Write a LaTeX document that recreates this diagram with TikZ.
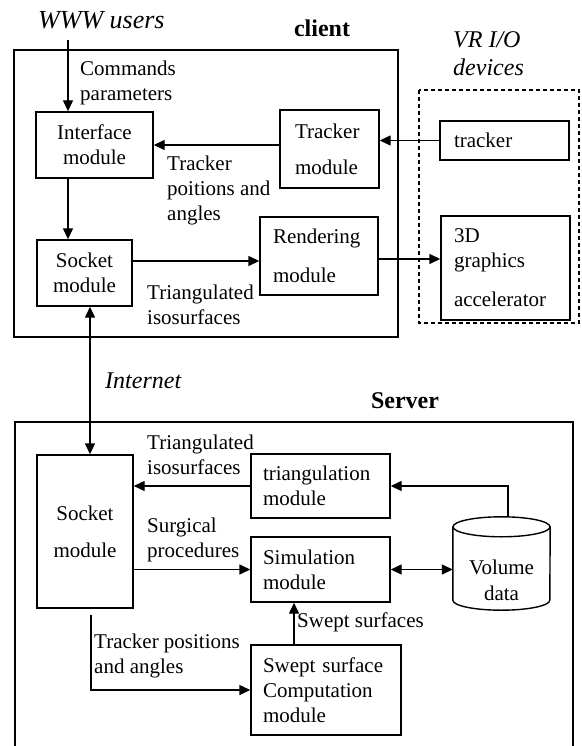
\documentclass[tikz,border=0pt]{standalone}
\usepackage{fontspec}
\setmainfont{Liberation Serif}
\usetikzlibrary{arrows.meta}
\begin{document}
\begin{tikzpicture}[x=1pt,y=-1pt,
  ln/.style={line width=1.4pt},
  arr/.style={ln,-{Triangle[length=11pt,width=10pt]}},
  darr/.style={ln,{Triangle[length=11pt,width=10pt]}-{Triangle[length=11pt,width=10pt]}},
  mod/.style={draw,ln,inner ysep=0pt,font=\fontsize{21}{25}\selectfont,align=left},
  lbl/.style={inner sep=0pt,anchor=west,align=left,font=\fontsize{21}{25}\selectfont},
  ital/.style={inner sep=0pt,font=\fontsize{24}{28}\selectfont\itshape},
  boldlbl/.style={inner sep=0pt,font=\fontsize{24}{28}\selectfont\bfseries},
]
\useasboundingbox (0,0) rectangle (581,746);

% containers
\draw[ln] (14,50) rectangle (398,337);
\draw[ln,dash pattern=on 4pt off 3pt] (419,90) rectangle (579,323);
\draw[ln] (15,760) -- (15,422) -- (573,422) -- (573,760);

% modules
\node[mod,align=center,text width=97pt,inner xsep=10pt,minimum height=66pt] (iface) at (94.5,145) {Interface\\module};
\node[mod,text width=69pt,inner xsep=15pt,minimum height=78pt] (trkm) at (329.5,149) {Tracker\\[11pt]module};
\node[mod,align=center,text width=75pt,inner xsep=10pt,minimum height=66pt] (csock) at (84.5,273) {Socket\\module};
\node[mod,text width=92pt,inner xsep=13pt,minimum height=78pt] (rend) at (319,256) {Rendering\\[14pt]module};
\node[mod,text width=101pt,inner xsep=14pt,minimum height=39pt] (trk) at (504.5,140.5) {tracker};
\node[mod,text width=103pt,inner xsep=13pt,minimum height=104pt] (gfx) at (505.5,268) {3D\\graphics\\[14pt]accelerator};
\node[mod,align=center,text width=76pt,inner xsep=10pt,minimum height=153pt] (ssock) at (85,531.5) {Socket\\[12pt]module};
\node[mod,text width=115pt,inner xsep=12pt,minimum height=64pt] (tri) at (320.5,486) {triangulation\\module};
\node[mod,text width=115pt,inner xsep=12pt,minimum height=65pt] (sim) at (320.5,569.5) {Simulation\\module};
\node[mod,text width=126pt,inner xsep=12pt,minimum height=90pt] (swept) at (326,690) {Swept surface\\Computation\\module};

% volume data cylinder
\node[inner sep=0pt,minimum width=97pt,minimum height=93pt] (vol) at (501.5,563.5) {};
\draw[ln] ([yshift=-10pt]vol.north west) -- ([yshift=10pt]vol.south west)
  arc[start angle=180,end angle=360,x radius=48.5pt,y radius=10pt]
  -- ([yshift=-10pt]vol.north east);
\draw[ln] ([yshift=-10pt]vol.north) ellipse[x radius=48.5pt,y radius=10pt];
\node[inner sep=0pt,align=center,font=\fontsize{21}{26}\selectfont] (voltxt) at (501.5,580) {Volume\\data};

% labels
\node[ital,anchor=west,font=\fontsize{26}{30}\selectfont\itshape] (www) at (38,20) {WWW users};
\node[boldlbl] (client) at (322,28) {client};
\node[ital,anchor=west,align=left] (vrio) at (453,54) {VR I/O\\devices};
\node[lbl] (cmd) at (80,82.5) {Commands\\parameters};
\node[lbl] (tpa) at (167,190) {Tracker\\poitions and\\angles};
\node[lbl] (tri1) at (147,304.5) {Triangulated\\isosurfaces};
\node[ital,anchor=west] (inet) at (105,381) {Internet};
\node[boldlbl] (server) at (405,401) {Server};
\node[lbl] (tri2) at (147,454.5) {Triangulated\\isosurfaces};
\node[lbl] (surg) at (147,539.5) {Surgical\\procedures};
\node[lbl] (swl) at (297,622) {Swept surfaces};
\node[lbl] (tpa2) at (94,656) {Tracker positions\\and angles};

% connectors
\coordinate (wx) at (68,40);
\draw[arr] (wx) -- (wx |- iface.north);
\draw[arr] (iface.south -| wx) -- (csock.north -| wx);
\draw[arr] (trkm.west |- iface.east) -- (iface.east);
\draw[arr] (trk.west) -- (trk.west -| trkm.east);
\coordinate (c1) at ([yshift=12pt]csock.east);
\draw[arr] (c1) -- (c1 -| rend.west);
\coordinate (c2) at ([yshift=-3pt]rend.east);
\draw[arr] (c2) -- (c2 -| gfx.west);
\coordinate (ix) at (90,0);
\draw[darr] (csock.south -| ix) -- (ssock.north -| ix);
\draw[arr] (tri.west) -- (tri.west -| ssock.east);
\draw[arr] (sim.west -| ssock.east) -- (sim.west);
\coordinate (sx) at (294,0);
\draw[arr] (swept.north -| sx) -- (sim.south -| sx);
\coordinate (tp) at (91,615);
\draw[arr] (tp) |- (swept.west);
\draw[arr] ([xshift=6.5pt]vol.north) |- (tri.east);
\draw[darr] (sim.east) -- (sim.east -| vol.west);
\end{tikzpicture}
\end{document}
